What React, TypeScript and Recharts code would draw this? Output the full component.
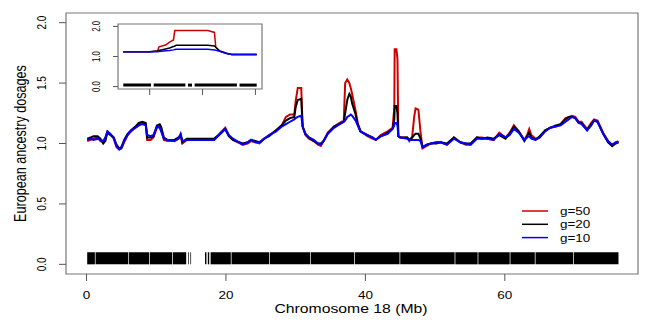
import React from 'react';
import { LineChart, Line, XAxis, YAxis, ReferenceArea } from 'recharts';

// main panel: position on chromosome 18 (Mb) and ancestry dosage per g
const posMb = [
  0.1, 0.6, 1.0, 1.6, 2.0, 2.4, 2.7, 3.0, 3.4, 3.9, 4.3, 4.7, 5.0, 5.4, 5.9, 6.4, 7.0, 7.5, 8.0, 8.5,
  8.7, 9.2, 9.6, 10.1, 10.5, 10.7, 11.1, 11.6, 12.1, 12.6, 13.2, 13.5, 13.75, 14.4, 15.0, 18.3, 19.2, 19.9, 20.4, 21.0,
  22.4, 23.1, 23.6, 24.2, 24.8, 25.5, 26.2, 27.2, 28.0, 28.6, 29.2, 29.8, 30.0, 30.3, 30.8, 31.0, 31.4, 31.9, 32.6, 33.2,
  33.6, 34.0, 34.6, 35.5, 36.3, 36.9, 37.1, 37.4, 37.7, 37.9, 38.1, 38.6, 38.9, 39.3, 40.3, 41.0, 41.5, 42.2, 43.2, 43.9,
  44.15, 44.2, 44.45, 44.6, 44.73, 45.0, 46.0, 46.3, 46.7, 47.0, 47.2, 47.6, 47.9, 48.2, 48.8, 49.4, 50.2, 50.8, 51.7, 52.7,
  53.6, 54.4, 55.1, 56.0, 56.7, 57.5, 58.4, 59.2, 60.1, 60.7, 61.3, 62.0, 62.8, 63.2, 63.5, 63.8, 64.4, 65.0, 65.8, 66.5,
  67.3, 68.0, 68.7, 69.2, 69.6, 70.1, 70.6, 71.0, 71.8, 72.4, 72.8, 73.3, 74.1, 74.8, 75.4, 75.9, 76.3,
];
const g10 = [
  1.03, 1.04, 1.03, 1.04, 1.03, 1.02, 1.05, 1.10, 1.08, 1.05, 0.98, 0.95, 0.96, 1.02, 1.07, 1.11, 1.13, 1.15, 1.16, 1.15,
  1.07, 1.06, 1.07, 1.14, 1.13, 1.10, 1.04, 1.03, 1.03, 1.02, 1.04, 1.08, 1.02, 1.03, 1.03, 1.03, 1.08, 1.12, 1.07, 1.04,
  0.99, 1.01, 1.03, 1.01, 1.01, 1.04, 1.07, 1.10, 1.14, 1.16, 1.18, 1.20, 1.21, 1.22, 1.23, 1.14, 1.08, 1.05, 1.03, 1.00,
  0.99, 1.02, 1.08, 1.13, 1.16, 1.18, 1.19, 1.22, 1.23, 1.24, 1.23, 1.19, 1.15, 1.10, 1.07, 1.05, 1.03, 1.06, 1.08, 1.12,
  1.15, 1.17, 1.17, 1.15, 1.06, 1.05, 1.04, 1.03, 1.03, 1.03, 1.03, 1.03, 1.02, 0.97, 0.99, 1.00, 1.01, 1.01, 0.99, 1.04,
  1.01, 1.00, 0.99, 1.04, 1.04, 1.04, 1.03, 1.08, 1.05, 1.07, 1.12, 1.09, 1.03, 1.05, 1.06, 1.04, 1.03, 1.05, 1.10, 1.13,
  1.14, 1.15, 1.18, 1.20, 1.22, 1.21, 1.17, 1.16, 1.11, 1.15, 1.19, 1.18, 1.08, 1.02, 0.99, 1.01, 1.01,
];
const g20 = [
  1.04, 1.05, 1.06, 1.06, 1.04, 1.00, 1.02, 1.09, 1.07, 1.05, 0.99, 0.96, 0.97, 1.03, 1.08, 1.11, 1.14, 1.17, 1.18, 1.17,
  1.05, 1.05, 1.06, 1.15, 1.16, 1.14, 1.05, 1.03, 1.03, 1.03, 1.05, 1.07, 1.01, 1.04, 1.04, 1.04, 1.08, 1.12, 1.06, 1.03,
  1.00, 1.01, 1.03, 1.02, 1.01, 1.04, 1.06, 1.11, 1.15, 1.19, 1.21, 1.22, 1.30, 1.36, 1.37, 1.14, 1.08, 1.05, 1.02, 1.00,
  1.00, 1.02, 1.08, 1.14, 1.16, 1.18, 1.25, 1.36, 1.41, 1.39, 1.33, 1.24, 1.16, 1.10, 1.07, 1.05, 1.03, 1.06, 1.09, 1.12,
  1.20, 1.31, 1.31, 1.25, 1.06, 1.05, 1.05, 1.03, 1.05, 1.07, 1.08, 1.08, 1.04, 0.97, 0.99, 1.00, 1.00, 1.01, 1.00, 1.05,
  1.01, 1.00, 1.00, 1.05, 1.04, 1.05, 1.04, 1.07, 1.04, 1.08, 1.14, 1.10, 1.02, 1.06, 1.09, 1.05, 1.03, 1.06, 1.11, 1.13,
  1.15, 1.16, 1.20, 1.22, 1.22, 1.21, 1.17, 1.17, 1.11, 1.16, 1.19, 1.18, 1.08, 1.01, 0.98, 1.00, 1.01,
];
const g50 = [
  1.02, 1.03, 1.04, 1.05, 1.02, 1.01, 1.04, 1.10, 1.08, 1.04, 0.97, 0.95, 0.96, 1.01, 1.07, 1.10, 1.13, 1.15, 1.17, 1.16,
  1.03, 1.03, 1.05, 1.13, 1.15, 1.12, 1.03, 1.02, 1.02, 1.02, 1.04, 1.07, 1.00, 1.03, 1.03, 1.03, 1.09, 1.13, 1.07, 1.03,
  0.99, 1.00, 1.02, 1.01, 1.00, 1.04, 1.07, 1.11, 1.15, 1.22, 1.24, 1.24, 1.35, 1.46, 1.46, 1.14, 1.07, 1.04, 1.02, 0.99,
  0.98, 1.02, 1.09, 1.14, 1.17, 1.19, 1.50, 1.53, 1.50, 1.46, 1.41, 1.27, 1.17, 1.10, 1.06, 1.04, 1.03, 1.07, 1.10, 1.13,
  1.30, 1.78, 1.78, 1.70, 1.06, 1.05, 1.05, 1.02, 1.05, 1.22, 1.29, 1.28, 1.10, 0.96, 0.98, 1.00, 1.01, 1.01, 0.99, 1.05,
  1.01, 0.99, 0.99, 1.05, 1.05, 1.04, 1.03, 1.09, 1.05, 1.09, 1.15, 1.10, 1.03, 1.07, 1.12, 1.07, 1.04, 1.05, 1.11, 1.13,
  1.14, 1.16, 1.21, 1.22, 1.23, 1.22, 1.18, 1.18, 1.12, 1.17, 1.20, 1.19, 1.09, 1.02, 0.98, 1.01, 1.02,
];

// marker positions (rug), read as covered stretches
const rugMain = [
  [0.1, 1.2], [1.3, 6.0], [6.1, 9.0], [9.1, 12.3], [12.4, 14.3], [14.6, 14.7], [14.9, 15.0],
  [17.0, 17.2], [17.4, 17.6], [17.8, 20.7], [20.8, 26.2], [26.3, 32.1], [32.2, 38.4], [38.5, 44.9],
  [45.0, 52.8], [52.9, 56.1], [56.2, 60.7], [60.8, 64.3], [64.4, 69.8], [69.9, 76.3],
];

// inset: zoom on 43.8 - 44.8 Mb
const insetPos = [43.8, 44.0, 44.06, 44.07, 44.12, 44.15, 44.18, 44.19, 44.2, 44.44, 44.49, 44.5, 44.53, 44.58, 44.62, 44.81];
const insetG10 = [1.16, 1.16, 1.16, 1.17, 1.19, 1.2, 1.22, 1.23, 1.24, 1.24, 1.22, 1.21, 1.17, 1.1, 1.07, 1.07];
const insetG20 = [1.16, 1.16, 1.18, 1.2, 1.25, 1.28, 1.33, 1.35, 1.37, 1.37, 1.35, 1.31, 1.18, 1.11, 1.07, 1.07];
const insetG50 = [1.16, 1.16, 1.18, 1.32, 1.38, 1.48, 1.55, 1.86, 1.86, 1.86, 1.8, 1.31, 1.18, 1.11, 1.07, 1.07];
const rugInset = [
  [43.8, 44.01], [44.03, 44.27], [44.29, 44.32], [44.34, 44.66], [44.68, 44.81],
];

const mainXTicks = [0, 20, 40, 60];
const mainYTicks = [0, 0.5, 1, 1.5, 2];
const insetXTicks = [43.8, 44.0, 44.2, 44.4, 44.6, 44.8];
const insetXLabels = [43.8, 44.2, 44.6];
const insetYTicks = [0, 0.5, 1, 1.5, 2];
const insetYLabels = [0, 1, 2];

const seriesNames = ['g=50', 'g=20', 'g=10'];
const seriesColors = ['#cd0000', '#000000', '#0000ff'];

const FONT = '"Liberation Sans", Arial, Helvetica, sans-serif';
const SX = 1.35; // the figure is stretched sideways

const chartData = posMb.map((x, i) => ({ x, g50: g50[i], g20: g20[i], g10: g10[i] }));
const insetData = insetPos.map((x, i) => ({ x, g50: insetG50[i], g20: insetG20[i], g10: insetG10[i] }));

const MainXTick = (props: any) => (
  <text transform={`translate(${props.x},299) scale(${SX},1)`} textAnchor="middle" fontSize={10} fontFamily={FONT} fill="#000">
    {props.payload.value}
  </text>
);

const MainYTick = (props: any) => (
  <text transform={`translate(45.5,${props.y}) scale(${SX},1) rotate(-90)`} textAnchor="middle" fontSize={10} fontFamily={FONT} fill="#000">
    {Number(props.payload.value).toFixed(1)}
  </text>
);

const InsetXTick = (props: any) =>
  insetXLabels.includes(props.payload.value) ? (
    <text transform={`translate(${props.x},106) scale(${SX},1)`} textAnchor="middle" fontSize={8.2} fontFamily={FONT} fill="#000">
      {Number(props.payload.value).toFixed(1)}
    </text>
  ) : (
    <g />
  );

const InsetYTick = (props: any) =>
  insetYLabels.includes(props.payload.value) ? (
    <text transform={`translate(100,${props.y}) scale(${SX},1) rotate(-90)`} textAnchor="middle" fontSize={7.8} fontFamily={FONT} fill="#000">
      {Number(props.payload.value).toFixed(1)}
    </text>
  ) : (
    <g />
  );

export default function App() {
  const keys = ['g50', 'g20', 'g10'];
  return (
    <div style={{ position: 'absolute', left: 0, top: 0, width: 654, height: 327, background: '#fff' }}>
      {/* main panel */}
      <div style={{ position: 'absolute', left: 0, top: 0 }}>
        <LineChart width={654} height={327} data={chartData} margin={{ top: 13, right: 16, left: 0, bottom: 0 }}>
          <XAxis
            dataKey="x"
            type="number"
            domain={[-2.94, 79.1]}
            allowDataOverflow
            ticks={mainXTicks}
            height={53}
            axisLine={false}
            tickSize={7}
            tickLine={{ stroke: '#555' }}
            tick={<MainXTick />}
          />
          <YAxis
            type="number"
            domain={[-0.08, 2.08]}
            allowDataOverflow
            ticks={mainYTicks}
            width={66}
            axisLine={false}
            tickSize={7}
            tickLine={{ stroke: '#555' }}
            tick={<MainYTick />}
          />
          <ReferenceArea x1={-2.94} x2={79.1} y1={-0.08} y2={2.08} fill="none" stroke="#777" strokeWidth={1.2} />
          {rugMain.map(([a, b], i) => (
            <ReferenceArea key={i} x1={a} x2={b} y1={0} y2={0.1} fill="#000" fillOpacity={1} stroke="none" />
          ))}
          {keys.map((k, i) => (
            <Line key={k} dataKey={k} type="linear" stroke={seriesColors[i]} strokeWidth={2} dot={false} isAnimationActive={false} />
          ))}
        </LineChart>
      </div>

      {/* inset */}
      <div style={{ position: 'absolute', left: 0, top: 0 }}>
        <LineChart width={270} height={112} data={insetData} margin={{ top: 24, right: 8, left: 0, bottom: 0 }}>
          <XAxis
            dataKey="x"
            type="number"
            domain={[43.76, 44.85]}
            allowDataOverflow
            ticks={insetXTicks}
            height={23}
            axisLine={false}
            tickSize={6}
            tickLine={{ stroke: '#555' }}
            tick={<InsetXTick />}
          />
          <YAxis
            type="number"
            domain={[-0.08, 2.08]}
            allowDataOverflow
            ticks={insetYTicks}
            width={118}
            axisLine={false}
            tickSize={5}
            tickLine={{ stroke: '#555' }}
            tick={<InsetYTick />}
          />
          <ReferenceArea x1={43.76} x2={44.85} y1={-0.08} y2={2.08} fill="#fff" fillOpacity={1} stroke="#777" strokeWidth={1.2} />
          {rugInset.map(([a, b], i) => (
            <ReferenceArea key={i} x1={a} x2={b} y1={0} y2={0.1} fill="#000" fillOpacity={1} stroke="none" />
          ))}
          {keys.map((k, i) => (
            <Line key={k} dataKey={k} type="linear" stroke={seriesColors[i]} strokeWidth={1.5} dot={false} isAnimationActive={false} />
          ))}
        </LineChart>
      </div>

      {/* axis titles and legend */}
      <svg width={654} height={327} style={{ position: 'absolute', left: 0, top: 0, pointerEvents: 'none' }}>
        <text transform="translate(25.5,143.5) scale(1.25,1) rotate(-90)" textAnchor="middle" fontSize={12.6} fontFamily={FONT} fill="#000">
          European ancestry dosages
        </text>
        <text transform="translate(351,312.5) scale(1.25,1)" textAnchor="middle" fontSize={12.6} fontFamily={FONT} fill="#000">
          Chromosome 18 (Mb)
        </text>
        {seriesNames.map((name, i) => (
          <g key={name}>
            <line x1={522} x2={548} y1={211 + i * 13.3} y2={211 + i * 13.3} stroke={seriesColors[i]} strokeWidth={1.5} />
            <text transform={`translate(560,${215 + i * 13.3}) scale(${SX},1)`} fontSize={10} fontFamily={FONT} fill="#000">
              {name}
            </text>
          </g>
        ))}
      </svg>
    </div>
  );
}
